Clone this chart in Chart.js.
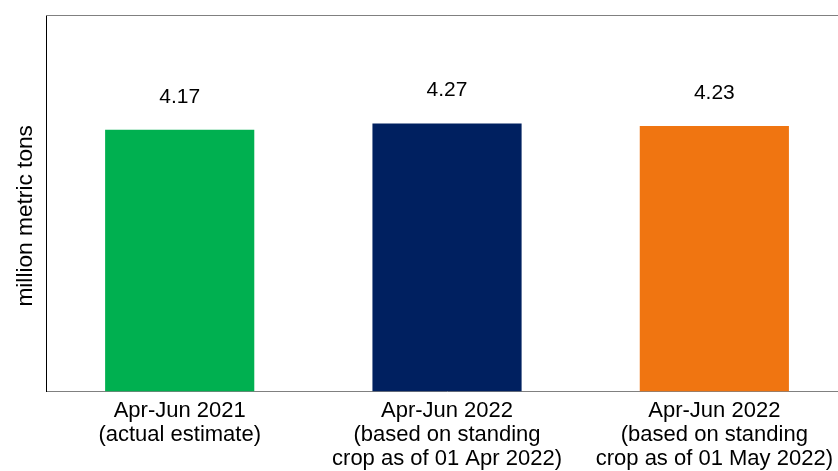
<!DOCTYPE html>
<html>
<head>
<meta charset="utf-8">
<script src="https://cdn.jsdelivr.net/npm/chart.js@4.4.1/dist/chart.umd.min.js"></script>
<style>
  html, body { margin: 0; padding: 0; background: #fff; overflow: hidden; width: 838px; height: 471px; }
  #wrap { position: relative; width: 848px; height: 478px; }
</style>
</head>
<body>
<div id="wrap"><canvas id="c"></canvas></div>
<script>
const categories = [
  ["Apr-Jun 2021", "(actual estimate)"],
  ["Apr-Jun 2022", "(based on standing", "crop as of 01 Apr 2022)"],
  ["Apr-Jun 2022", "(based on standing", "crop as of 01 May 2022)"]
];
const values = [4.17, 4.27, 4.23];
const valueLabels = ["4.17", "4.27", "4.23"];
const barColors = ["#00B050", "#002060", "#F07511"];
const yTitle = "million metric tons";

const FONT = "'Liberation Sans', Arial, sans-serif";

const valueLabelPlugin = {
  id: 'valueLabels',
  afterDatasetsDraw(chart) {
    const ctx = chart.ctx;
    const meta = chart.getDatasetMeta(0);
    ctx.save();
    ctx.fillStyle = '#000';
    ctx.font = "21px " + FONT;
    ctx.textAlign = 'center';
    ctx.textBaseline = 'middle';
    meta.data.forEach((bar, i) => {
      ctx.fillText(valueLabels[i], bar.x, bar.y - 33);
    });
    ctx.restore();
  }
};

const topBorderPlugin = {
  id: 'topBorder',
  afterDraw(chart) {
    const a = chart.chartArea;
    const ctx = chart.ctx;
    ctx.save();
    ctx.strokeStyle = '#808080';
    ctx.lineWidth = 1;
    ctx.beginPath();
    ctx.moveTo(a.left, a.top + 0.5);
    ctx.lineTo(a.right, a.top + 0.5);
    ctx.stroke();
    ctx.restore();
  }
};

new Chart(document.getElementById('c'), {
  type: 'bar',
  data: {
    labels: categories,
    datasets: [{
      data: values,
      backgroundColor: barColors,
      borderWidth: 0,
      barPercentage: 0.558,
      categoryPercentage: 1.0
    }]
  },
  options: {
    responsive: true,
    maintainAspectRatio: false,
    animation: false,
    devicePixelRatio: 1,
    layout: { padding: { left: 8, top: 15, right: 0, bottom: 0 } },
    plugins: {
      legend: { display: false },
      tooltip: { enabled: false }
    },
    scales: {
      x: {
        grid: { display: false, drawTicks: false },
        border: { display: true, color: '#808080', width: 1 },
        ticks: {
          color: '#000',
          font: { family: FONT, size: 22, lineHeight: 1.1 },
          padding: 7,
          maxRotation: 0,
          autoSkip: false
        }
      },
      y: {
        min: 0,
        max: 6,
        grid: { display: false, drawTicks: false },
        border: { display: true, color: '#000', width: 1 },
        ticks: { display: false },
        title: {
          display: true,
          text: yTitle + "    ",
          color: '#000',
          font: { family: FONT, size: 22.7 },
          padding: { top: 4.4, bottom: 6.4 }
        }
      }
    }
  },
  plugins: [valueLabelPlugin, topBorderPlugin]
});
</script>
</body>
</html>
